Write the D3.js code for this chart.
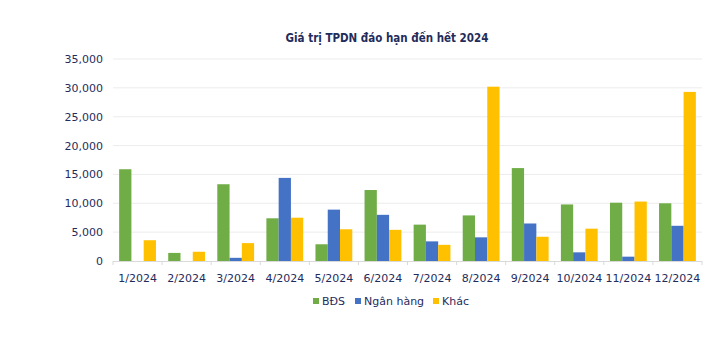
<!DOCTYPE html>
<html><head><meta charset="utf-8">
<script src="https://cdn.jsdelivr.net/npm/d3@7"></script>
<style>body{margin:0;background:#fff}</style>
</head><body>
<svg id="c" width="728" height="344"></svg>
<script>
const categories = ["1/2024","2/2024","3/2024","4/2024","5/2024","6/2024","7/2024","8/2024","9/2024","10/2024","11/2024","12/2024"];
const seriesNames = ["BĐS","Ngân hàng","Khác"];
const bds = [15900,1400,13300,7400,2900,12300,6300,7900,16100,9800,10100,10000];
const nganHang = [0,0,550,14400,8900,8000,3400,4100,6500,1500,750,6100];
const khac = [3600,1600,3100,7500,5500,5400,2800,30200,4200,5600,10300,29300];
const yTicks = [0,5000,10000,15000,20000,25000,30000,35000];
const colors = ["#70AD47","#4472C4","#FFC000"];
const title = "Giá trị TPDN đáo hạn đến hết 2024";

const series = [bds, nganHang, khac];
const svg = d3.select("#c");
const font = "'DejaVu Sans', Verdana, sans-serif";
const txt = "#1F2C5C";
const m = {l:113, r:26, t:59, b:83};
const W = 728, H = 344;
const x = d3.scaleBand().domain(categories).range([m.l, W-m.r]).paddingInner(0.25).paddingOuter(0.125);
const xs = d3.scaleBand().domain(d3.range(3)).range([0, x.bandwidth()]);
const y = d3.scaleLinear().domain([0,35000]).range([H-m.b, m.t]);

svg.append("text").attr("x",387).attr("y",42).attr("text-anchor","middle")
  .attr("font-family","'DejaVu Sans Condensed', 'DejaVu Sans', sans-serif").attr("font-weight","bold")
  .attr("font-size",11.5).attr("fill",txt).text(title);

// grid
svg.append("g").selectAll("line").data(yTicks.filter(d=>d>0)).join("line")
  .attr("x1",m.l).attr("x2",W-m.r).attr("y1",d=>y(d)).attr("y2",d=>y(d))
  .attr("stroke","#ECECEC").attr("stroke-width",1);

// y axis labels
const yAxis = d3.axisLeft(y).tickValues(yTicks).tickSize(0).tickPadding(10).tickFormat(d3.format(","));
const ya = svg.append("g").attr("transform",`translate(${m.l},0)`).call(yAxis);
ya.select(".domain").remove();
ya.selectAll("text").attr("font-family",font).attr("font-size",11).attr("fill",txt);

// bars
const g = svg.append("g");
series.forEach((s,i)=>{
  g.selectAll(null).data(s).join("rect")
    .attr("x",(d,j)=>x(categories[j])+xs(i))
    .attr("width",xs.bandwidth())
    .attr("y",d=>y(d))
    .attr("height",d=>y(0)-y(d))
    .attr("fill",colors[i]);
});

// x axis
const xa = svg.append("g").attr("transform",`translate(0,${y(0)})`);
xa.append("line").attr("x1",m.l).attr("x2",W-m.r).attr("y1",0.5).attr("y2",0.5).attr("stroke","#D9D9D9");
const step = x.step();
const bounds = d3.range(categories.length+1).map(i=>m.l + i*step);
xa.selectAll("line.t").data(bounds).join("line").attr("class","t")
  .attr("x1",d=>d).attr("x2",d=>d).attr("y1",0).attr("y2",4).attr("stroke","#D9D9D9");
xa.selectAll("text").data(categories).join("text")
  .attr("x",d=>x(d)+x.bandwidth()/2).attr("y",21).attr("text-anchor","middle")
  .attr("font-family",font).attr("font-size",11).attr("fill",txt).text(d=>d);

// legend
const lx = [313, 355, 433];
const lg = svg.append("g");
seriesNames.forEach((n,i)=>{
  lg.append("rect").attr("x",lx[i]).attr("y",298).attr("width",6).attr("height",6).attr("fill",colors[i]);
  lg.append("text").attr("x",lx[i]+9).attr("y",305).attr("font-family",font).attr("font-size",11).attr("fill",txt).text(n);
});
</script>
</body></html>
